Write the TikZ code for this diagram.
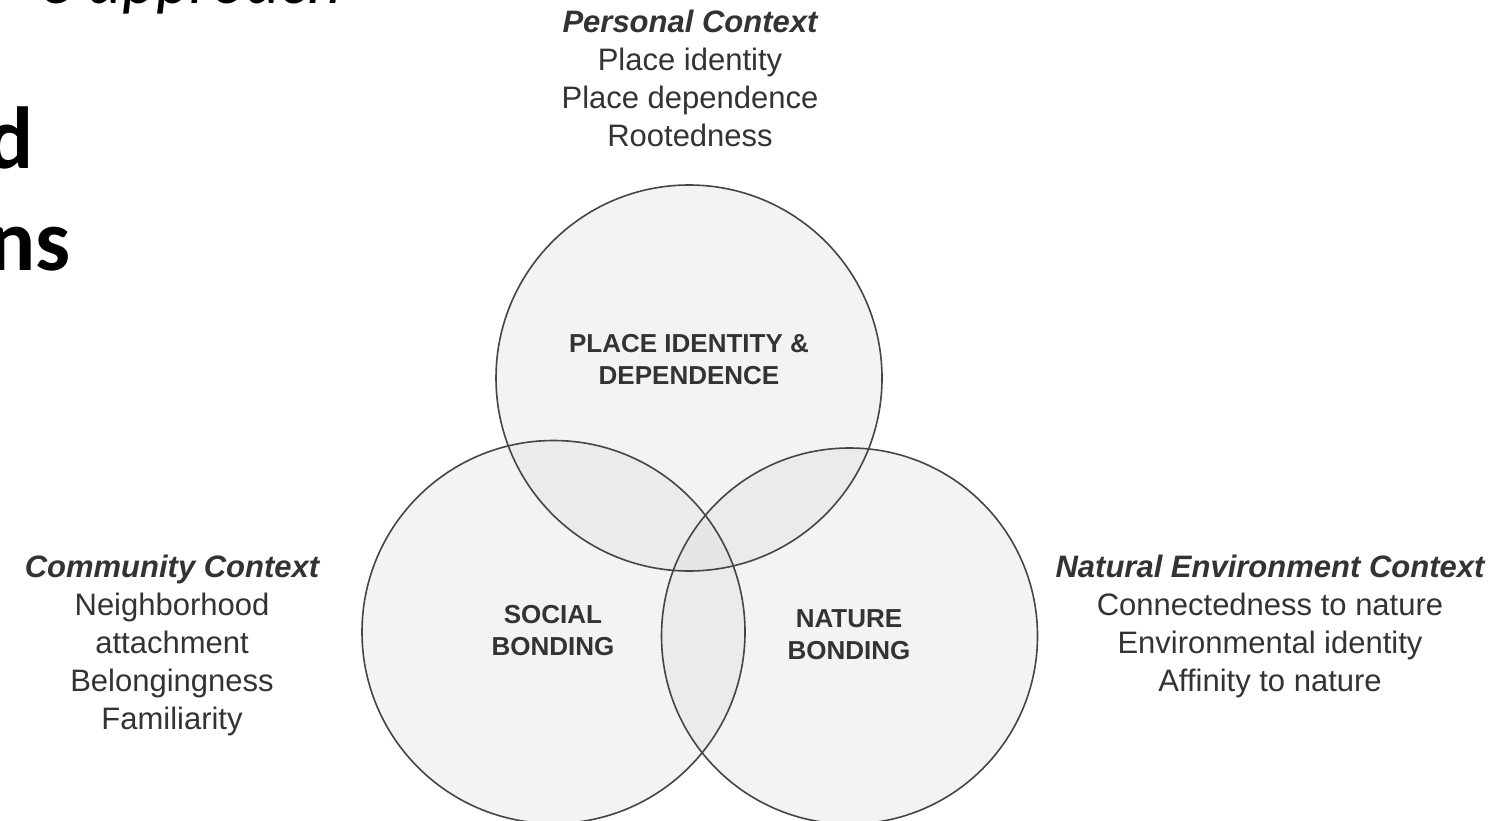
\documentclass[tikz,border=0pt]{standalone}
\usepackage{fontspec}
\setmainfont{Liberation Sans}
\newfontfamily\slidefont{Carlito}
\definecolor{txt}{HTML}{333333}
\definecolor{edge}{HTML}{454545}
\definecolor{one}{HTML}{F3F3F3}
\definecolor{two}{HTML}{EBEBEB}
\definecolor{three}{HTML}{E5E6E8}
\begin{document}
\begin{tikzpicture}[x=1pt,y=-1pt,
  ctx/.style={anchor=base, inner sep=0, text=txt, font=\fontsize{31}{38}\selectfont},
  ctxhead/.style={anchor=base, inner sep=0, text=txt, font=\fontsize{31}{38}\selectfont\bfseries\itshape},
  lab/.style={anchor=base, inner sep=0, text=txt, font=\fontsize{26}{32}\selectfont\bfseries},
  ring/.style={draw=edge, line width=1.6pt},
  slide/.style={anchor=base east, inner sep=0, text=black}]
\useasboundingbox (0,0) rectangle (1498,821);
\clip (0,0) rectangle (1498,821);
\fill[white] (0,0) rectangle (1498,821);
% slide fragments
\node[slide, font=\slidefont\fontsize{66}{80}\selectfont\itshape] (s1) at (342,4) {e approach};
\node[slide, font=\slidefont\fontsize{88}{100}\selectfont\bfseries] (s2) at (34,168) {d};
\node[slide, font=\slidefont\fontsize{88}{100}\selectfont\bfseries] (s3) at (71,270) {ns};
% circles
\coordinate (T) at (689,378);
\coordinate (L) at (553.5,632);
\coordinate (R) at (849.5,636);
\def\rT{193pt}\def\rL{191.5pt}\def\rR{188pt}
\fill[one] (T) circle[radius=\rT];
\fill[one] (L) circle[radius=\rL];
\fill[one] (R) circle[radius=\rR];
\begin{scope}
  \clip (T) circle[radius=\rT];
  \fill[two] (L) circle[radius=\rL];
  \fill[two] (R) circle[radius=\rR];
\end{scope}
\begin{scope}
  \clip (L) circle[radius=\rL];
  \fill[two] (R) circle[radius=\rR];
\end{scope}
\begin{scope}
  \clip (T) circle[radius=\rT];
  \clip (L) circle[radius=\rL];
  \fill[three] (R) circle[radius=\rR];
\end{scope}
\draw[ring] (T) circle[radius=\rT];
\draw[ring] (L) circle[radius=\rL];
\draw[ring] (R) circle[radius=\rR];
% circle labels
\node[lab] (t1) at (689,352) {PLACE IDENTITY \&};
\node[lab] (t2) at (689,384) {DEPENDENCE};
\node[lab] (l1) at (553,623) {SOCIAL};
\node[lab] (l2) at (553,655) {BONDING};
\node[lab] (r1) at (849,627) {NATURE};
\node[lab] (r2) at (849,659) {BONDING};
% personal context
\node[ctxhead] (p0) at (690,33) {Personal Context};
\foreach \t [count=\i] in {Place identity, Place dependence, Rootedness}
  \node[ctx] (p\i) at (690,{33+38*\i}) {\t};
% community context
\node[ctxhead] (c0) at (172,577) {Community Context};
\foreach \t [count=\i] in {Neighborhood, attachment, Belongingness, Familiarity}
  \node[ctx] (c\i) at (172,{577+38*\i}) {\t};
% natural environment context
\node[ctxhead] (n0) at (1270,577) {Natural Environment Context};
\foreach \t [count=\i] in {Connectedness to nature, Environmental identity, Affinity to nature}
  \node[ctx] (n\i) at (1270,{577+38*\i}) {\t};
\end{tikzpicture}
\end{document}
